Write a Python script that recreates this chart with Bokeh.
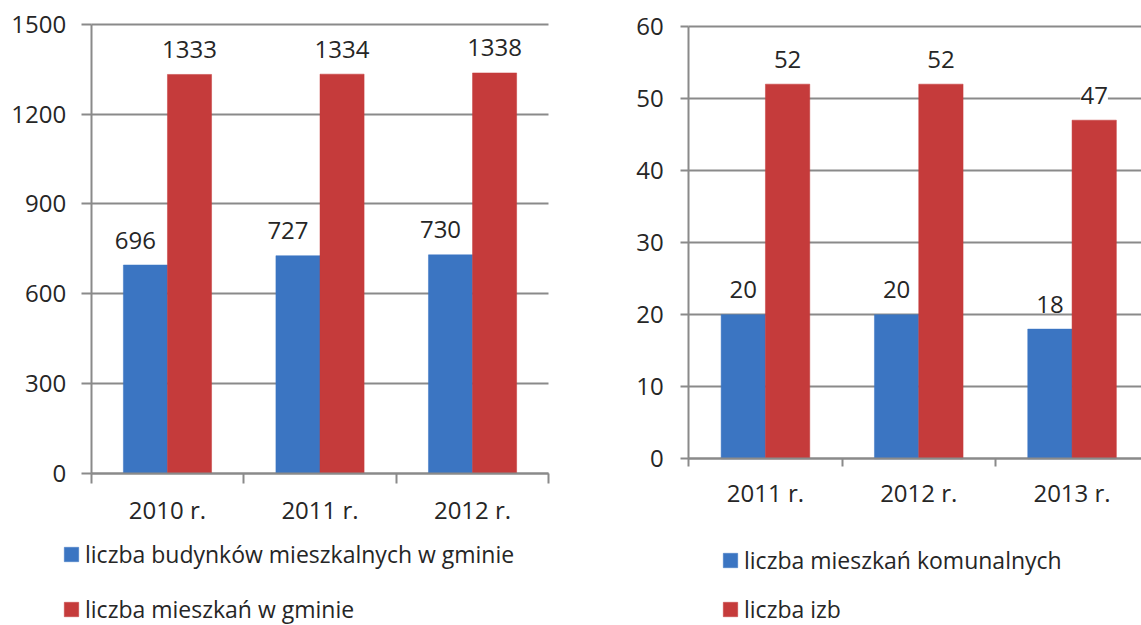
from bokeh.plotting import figure
from bokeh.models import (ColumnDataSource, Range1d, FixedTicker, LabelSet,
                          Legend, LegendItem)
from bokeh.layouts import row
from bokeh.core.properties import value
from bokeh.embed import file_html
from bokeh.resources import INLINE

# ---------------- data ----------------
years_left = ["2010 r.", "2011 r.", "2012 r."]
budynki = [696, 727, 730]
mieszkania = [1333, 1334, 1338]
left_names = ["liczba budynków mieszkalnych w gminie", "liczba mieszkań w gminie"]
left_yticks = [0, 300, 600, 900, 1200, 1500]

years_right = ["2011 r.", "2012 r.", "2013 r."]
komunalne = [20, 20, 18]
izby = [52, 52, 47]
right_names = ["liczba mieszkań komunalnych", "liczba izb"]
right_yticks = [0, 10, 20, 30, 40, 50, 60]

FONT = "Open Sans"
FS = "24px"
BLUE = "#3B75C2"
RED = "#C53B3B"
GRID = "#8A8A8A"
TXT = "#262626"
H = 625


def make_chart(cats, a, b, names, yticks, width, x_lo, x_hi, y_lo, y_hi,
               tick_len, x_standoff, y_standoff, blue_dx, legend_loc,
               legend_spacing):
    n = len(cats)
    xc = [i + 0.5 for i in range(n)]
    off = 0.1445
    src = ColumnDataSource(dict(
        xa=[x - off for x in xc], xb=[x + off for x in xc],
        a=a, b=b, at=[str(v) for v in a], bt=[str(v) for v in b]))

    p = figure(width=width, height=H, output_backend="svg",
               toolbar_location=None,
               x_range=Range1d(x_lo, x_hi), y_range=Range1d(y_lo, y_hi),
               min_border=0)
    p.outline_line_color = None
    p.background_fill_color = "white"
    p.border_fill_color = "white"

    r1 = p.vbar(x="xa", top="a", width=2 * off, bottom=0, source=src,
                fill_color=BLUE, line_color=BLUE, line_width=0.5)
    r2 = p.vbar(x="xb", top="b", width=2 * off, bottom=0, source=src,
                fill_color=RED, line_color=RED, line_width=0.5)

    # grid
    p.xgrid.visible = False
    p.ygrid.ticker = FixedTicker(ticks=yticks)
    p.ygrid.cross_bounds = (0, n)
    p.ygrid.grid_line_color = GRID
    p.ygrid.grid_line_width = 2
    p.ygrid.level = "underlay"

    # y axis drawn at x = 0
    ya = p.yaxis[0]
    ya.fixed_location = 0
    ya.bounds = (yticks[0], yticks[-1])
    ya.ticker = FixedTicker(ticks=yticks)
    ya.axis_line_color = GRID
    ya.axis_line_width = 2
    ya.major_tick_line_color = GRID
    ya.major_tick_line_width = 2
    ya.major_tick_out = tick_len
    ya.major_tick_in = 0
    ya.minor_tick_line_color = None
    ya.major_label_text_font = FONT
    ya.major_label_text_font_size = FS
    ya.major_label_text_color = TXT
    ya.major_label_standoff = y_standoff

    # x axis drawn at y = 0
    xa = p.xaxis[0]
    xa.fixed_location = 0
    xa.bounds = (0, n)
    xa.ticker = FixedTicker(ticks=xc, minor_ticks=list(range(n + 1)))
    xa.major_label_overrides = {x: c for x, c in zip(xc, cats)}
    xa.axis_line_color = GRID
    xa.axis_line_width = 2
    xa.major_tick_line_color = None
    xa.major_tick_out = 0
    xa.major_tick_in = 0
    xa.minor_tick_line_color = GRID
    xa.minor_tick_line_width = 2
    xa.minor_tick_out = tick_len
    xa.minor_tick_in = 0
    xa.major_label_text_font = FONT
    xa.major_label_text_font_size = FS
    xa.major_label_text_color = TXT
    xa.major_label_standoff = x_standoff

    # data labels
    for xf, yf, tf, dx in (("xa", "a", "at", blue_dx), ("xb", "b", "bt", 0)):
        lab = LabelSet(x=xf, y=yf, text=tf, source=src, x_offset=dx,
                       y_offset=25, text_align="center",
                       text_baseline="middle",
                       text_font=value(FONT), text_font_size=FS,
                       text_color=TXT, background_fill_color="white",
                       background_fill_alpha=1.0)
        p.add_layout(lab)

    legend = Legend(items=[LegendItem(label=names[0], renderers=[r1]),
                           LegendItem(label=names[1], renderers=[r2])],
                    location=legend_loc, orientation="vertical",
                    border_line_color=None, background_fill_alpha=0,
                    padding=0, margin=0, spacing=legend_spacing,
                    glyph_width=18, glyph_height=18,
                    label_standoff=5,
                    label_text_font=FONT, label_text_font_size="23px",
                    label_text_color=TXT)
    p.add_layout(legend, "center")
    return p


# left chart: 0 -> px 90.7, 3 -> px 548.3 ; 1500 -> px 24, 0 -> px 472.7
left = make_chart(years_left, budynki, mieszkania, left_names, left_yticks,
                  width=620, x_lo=-0.5946, x_hi=3.470,
                  y_lo=-509.1, y_hi=1580.2,
                  tick_len=10, x_standoff=10, y_standoff=15, blue_dx=-10,
                  legend_loc=(62, 0), legend_spacing=23)
# right chart: 0 -> px 688.3, 1 cat = 153.3 px ; 60 -> px 26, 0 -> px 458.3
right = make_chart(years_right, komunalne, izby, right_names, right_yticks,
                   width=521, x_lo=-0.4455, x_hi=2.953,
                   y_lo=-23.14, y_hi=63.61,
                   tick_len=8, x_standoff=9, y_standoff=17, blue_dx=0,
                   legend_loc=(101, 0), legend_spacing=17)

layout = row(left, right, spacing=0)
open("out.html", "w").write(file_html(layout, INLINE))
